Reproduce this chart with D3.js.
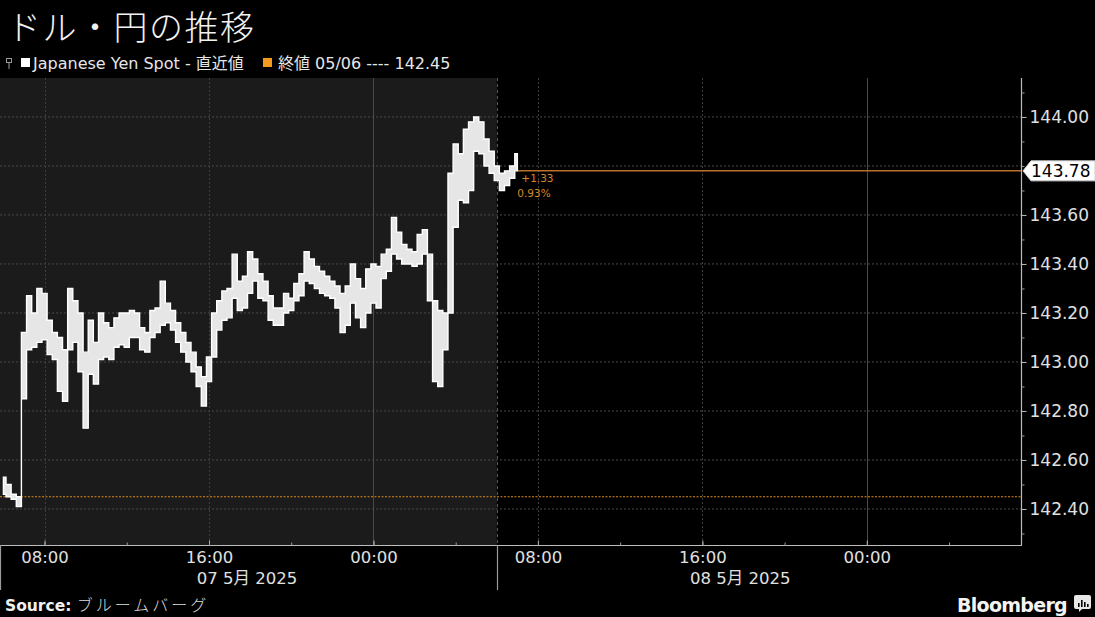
<!DOCTYPE html>
<html>
<head>
<meta charset="utf-8">
<script src="https://cdn.jsdelivr.net/npm/d3@7"></script>
<style>
  html, body { margin: 0; padding: 0; background: #000; }
  svg { display: block; }
</style>
</head>
<body>
<svg id="chart" width="1095" height="617"></svg>
<script>
// ---------------- DATA ----------------
const title = "ドル・円の推移";
const seriesName = "Japanese Yen Spot - 直近値";
const refLabel = "終値 05/06 ---- 142.45";
const refValue = 142.45;
const lastValue = 143.78;
const changeLabel = "+1.33";
const changePctLabel = "0.93%";
const sourceLabel = "ブルームバーグ";
const dateLabels = ["07 5月 2025", "08 5月 2025"];
const yGridValues = [142.4, 142.6, 142.8, 143.0, 143.2, 143.4, 143.6, 143.8, 144.0];
const yLabelValues = [142.4, 142.6, 142.8, 143.0, 143.2, 143.4, 143.6, 144.0];
const yMinorTicks = [142.3, 142.5, 142.7, 142.9, 143.1, 143.3, 143.5, 143.7, 143.8, 143.9, 144.1];
// 15-minute bars starting 2025-05-07 06:00 (Tokyo)
const seriesStart = new Date(2025, 4, 7, 6, 0);
const barMinutes = 15;
const priceHigh = [
  142.53, 142.50, 142.46, 142.45, 143.12, 143.27, 143.20, 143.30, 143.28, 143.17,
  143.12, 143.10, 143.05, 143.30, 143.25, 143.20, 143.04, 143.17, 143.08, 143.20,
  143.16, 143.14, 143.18, 143.20, 143.20, 143.21, 143.20, 143.14, 143.12, 143.21,
  143.22, 143.33, 143.24, 143.21, 143.16, 143.12, 143.08, 143.04, 142.98, 142.94,
  143.02, 143.20, 143.25, 143.29, 143.30, 143.44, 143.33, 143.35, 143.45, 143.42,
  143.36, 143.33, 143.27, 143.22, 143.22, 143.28, 143.26, 143.32, 143.36, 143.45,
  143.42, 143.39, 143.37, 143.35, 143.33, 143.31, 143.28, 143.31, 143.40, 143.34,
  143.30, 143.38, 143.40, 143.39, 143.44, 143.46, 143.59, 143.53, 143.48, 143.46,
  143.45, 143.52, 143.54, 143.44, 143.25, 143.21, 143.20, 143.77, 143.89, 143.85,
  143.95, 143.98, 144.00, 143.98, 143.91, 143.86, 143.80, 143.77, 143.78, 143.80,
  143.85
];
const priceLow = [
  142.46, 142.45, 142.44, 142.41, 142.85, 143.05, 143.06, 143.08, 143.09, 143.03,
  143.01, 142.88, 142.84, 143.05, 143.08, 142.96, 142.73, 142.95, 142.91, 143.01,
  143.02, 143.01, 143.06, 143.07, 143.06, 143.10, 143.10, 143.05, 143.04, 143.10,
  143.12, 143.15, 143.16, 143.13, 143.08, 143.04, 143.00, 142.96, 142.90, 142.82,
  142.92, 143.02, 143.13, 143.17, 143.18, 143.26, 143.21, 143.22, 143.28, 143.33,
  143.26, 143.25, 143.17, 143.15, 143.15, 143.20, 143.21, 143.25, 143.27, 143.33,
  143.32, 143.30, 143.28, 143.27, 143.26, 143.22, 143.12, 143.15, 143.24, 143.18,
  143.14, 143.20, 143.24, 143.22, 143.34, 143.37, 143.44, 143.42, 143.40, 143.40,
  143.39, 143.40, 143.44, 143.25, 142.92, 142.90, 143.05, 143.20, 143.55, 143.66,
  143.65, 143.70, 143.86, 143.85, 143.80, 143.77, 143.74, 143.70, 143.72, 143.75,
  143.78
];

// ---------------- LAYOUT ----------------
const W = 1095, H = 617;
const plot = { left: 0, right: 1021, top: 78, bottom: 545 };
const domainStart = new Date(2025, 4, 7, 5, 50);
const domainEnd = new Date(2025, 4, 9, 7, 30);
const sessionBreak = new Date(2025, 4, 8, 6, 0);

const bars = priceHigh.map((h, i) => ({
  t: new Date(seriesStart.getTime() + i * barMinutes * 60000),
  hi: h, lo: priceLow[i]
}));

const svg = d3.select("#chart");
const x = d3.scaleTime().domain([domainStart, domainEnd]).range([plot.left, plot.right]);
const y = d3.scaleLinear().domain([142.253, 144.159]).range([plot.bottom, plot.top]);

const latin = "'DejaVu Sans', 'Noto Sans CJK JP', sans-serif";
const cjk = "'Noto Sans CJK JP', 'DejaVu Sans', sans-serif";

svg.append("rect").attr("width", W).attr("height", H).attr("fill", "#000");

// shaded previous session
svg.append("rect")
  .attr("x", x(domainStart)).attr("y", plot.top)
  .attr("width", x(sessionBreak) - x(domainStart)).attr("height", plot.bottom - plot.top)
  .attr("fill", "#1b1b1b");

// horizontal gridlines
svg.append("g").selectAll("line").data(yGridValues).join("line")
  .attr("x1", plot.left).attr("x2", plot.right)
  .attr("y1", d => y(d)).attr("y2", d => y(d))
  .attr("stroke", "#4a4a4a").attr("stroke-width", 1).attr("stroke-dasharray", "2,2");

// vertical gridlines at 8-hour marks
const majorTimes = x.ticks(d3.timeHour.every(8));
svg.append("g").selectAll("line").data(majorTimes).join("line")
  .attr("x1", d => Math.round(x(d)) + 0.5).attr("x2", d => Math.round(x(d)) + 0.5)
  .attr("y1", plot.top).attr("y2", plot.bottom)
  .attr("stroke", d => d.getHours() === 0 ? "#4a4a4a" : "#3e3e3e")
  .attr("stroke-width", 1)
  .attr("stroke-dasharray", d => d.getHours() === 0 ? null : "2,2");

// session break line
svg.append("line")
  .attr("x1", Math.round(x(sessionBreak)) + 0.5).attr("x2", Math.round(x(sessionBreak)) + 0.5)
  .attr("y1", plot.top).attr("y2", plot.bottom)
  .attr("stroke", "#5a5a5a").attr("stroke-dasharray", "3,3");

// reference close line (dotted orange)
svg.append("line")
  .attr("x1", plot.left).attr("x2", plot.right)
  .attr("y1", y(refValue)).attr("y2", y(refValue))
  .attr("stroke", "#e08a1e").attr("stroke-width", 1.2).attr("stroke-dasharray", "2,1.5");

// last value line
const lastX = x(bars[bars.length - 1].t);
svg.append("line")
  .attr("x1", lastX).attr("x2", plot.right)
  .attr("y1", y(lastValue)).attr("y2", y(lastValue))
  .attr("stroke", "#b8702a").attr("stroke-width", 1.5);

// price band
const area = d3.area()
  .x(d => x(d.t))
  .y0(d => y(d.lo))
  .y1(d => y(d.hi))
  .curve(d3.curveStep);
svg.append("path").datum(bars)
  .attr("d", area)
  .attr("fill", "#e6e6e6")
  .attr("stroke", "#ffffff")
  .attr("stroke-width", 1.4)
  .attr("stroke-linejoin", "miter");

// change annotation
svg.append("text").attr("x", lastX + 4).attr("y", y(lastValue) + 11)
  .attr("fill", "#d4892a").attr("font-family", latin).attr("font-size", 10.5)
  .text(changeLabel);
svg.append("text").attr("x", lastX).attr("y", y(lastValue) + 26)
  .attr("fill", "#d4892a").attr("font-family", latin).attr("font-size", 10.5)
  .text(changePctLabel);

// ---------------- AXES ----------------
// right axis line
svg.append("line")
  .attr("x1", plot.right + 0.5).attr("x2", plot.right + 0.5)
  .attr("y1", plot.top).attr("y2", plot.bottom)
  .attr("stroke", "#bdbdbd").attr("stroke-width", 1.2);

const yAxis = d3.axisRight(y).tickValues(yLabelValues)
  .tickFormat(d3.format(".2f")).tickSize(5).tickPadding(3);
const gy = svg.append("g").attr("transform", `translate(${plot.right + 0.5},0)`).call(yAxis);
gy.select(".domain").remove();
gy.selectAll(".tick line").attr("stroke", "#bdbdbd");
gy.selectAll(".tick text").attr("fill", "#e0e0e0")
  .attr("font-family", latin).attr("font-size", 17);

const yMinor = d3.axisRight(y).tickValues(yMinorTicks).tickFormat("").tickSize(3);
const gym = svg.append("g").attr("transform", `translate(${plot.right + 0.5},0)`).call(yMinor);
gym.select(".domain").remove();
gym.selectAll(".tick line").attr("stroke", "#9a9a9a");

// x axis
svg.append("line")
  .attr("x1", plot.left).attr("x2", plot.right + 1)
  .attr("y1", plot.bottom + 0.5).attr("y2", plot.bottom + 0.5)
  .attr("stroke", "#bdbdbd").attr("stroke-width", 1.2);

const xAxis = d3.axisBottom(x).ticks(d3.timeHour.every(8))
  .tickFormat(d3.timeFormat("%H:%M")).tickSizeInner(-5).tickSizeOuter(0).tickPadding(6);
const gx = svg.append("g").attr("transform", `translate(0,${plot.bottom + 0.5})`).call(xAxis);
gx.select(".domain").remove();
gx.selectAll(".tick line").attr("stroke", "#bdbdbd");
gx.selectAll(".tick text").attr("fill", "#e0e0e0")
  .attr("font-family", latin).attr("font-size", 16.5);

const xMinor = d3.axisBottom(x).ticks(d3.timeHour.every(4)).tickFormat("").tickSizeInner(-3).tickSizeOuter(0);
const gxm = svg.append("g").attr("transform", `translate(0,${plot.bottom + 0.5})`).call(xMinor);
gxm.select(".domain").remove();
gxm.selectAll(".tick line").attr("stroke", "#9a9a9a");

// right end tick of x axis
svg.append("line").attr("x1", plot.right + 0.5).attr("x2", plot.right + 0.5)
  .attr("y1", plot.bottom - 4).attr("y2", plot.bottom).attr("stroke", "#bdbdbd");

// day separators below axis
[domainStart, sessionBreak].forEach(d => {
  const xx = Math.max(0.5, Math.round(x(d)) + 0.5);
  svg.append("line").attr("x1", xx).attr("x2", xx)
    .attr("y1", plot.bottom).attr("y2", plot.bottom + 45)
    .attr("stroke", "#9a9a9a").attr("stroke-width", 1.2);
});

// date labels (centered a bit right of each day's 16:00 tick)
const dateAnchors = [new Date(2025, 4, 7, 16, 0), new Date(2025, 4, 8, 16, 0)];
svg.append("g").selectAll("text").data(dateLabels).join("text")
  .attr("x", (d, i) => x(dateAnchors[i]) + 38)
  .attr("y", 584)
  .attr("text-anchor", "middle")
  .attr("fill", "#e0e0e0").attr("font-family", latin).attr("font-size", 16.5)
  .text(d => d);

// last value tag on right axis
const tagY = y(lastValue);
const tag = svg.append("g").attr("transform", `translate(${plot.right + 2},${tagY})`);
tag.append("path")
  .attr("d", "M0,0 L8,-10 L72,-10 L72,10 L8,10 Z")
  .attr("fill", "#ffffff").attr("stroke", "#cfcfcf");
tag.append("text").attr("x", 8).attr("y", 0).attr("dy", "0.36em")
  .attr("fill", "#000").attr("font-family", latin).attr("font-size", 17)
  .text(d3.format(".2f")(lastValue));

// ---------------- TITLE / LEGEND ----------------
svg.append("text").attr("x", 7).attr("y", 39.5)
  .attr("fill", "#f2f2f2").attr("font-family", cjk).attr("font-weight", 300)
  .attr("font-size", 34).attr("letter-spacing", 1.5).text(title);

// legend pin icon
const pin = svg.append("g").attr("transform", "translate(6,58)").attr("stroke", "#9a9a9a").attr("fill", "none");
pin.append("rect").attr("x", 0.5).attr("y", 0.5).attr("width", 5).attr("height", 4);
pin.append("line").attr("x1", 3).attr("x2", 3).attr("y1", 4.5).attr("y2", 11);

svg.append("rect").attr("x", 21).attr("y", 58).attr("width", 9).attr("height", 9).attr("fill", "#ffffff");
svg.append("text").attr("x", 33).attr("y", 69)
  .attr("fill", "#e6e6e6").attr("font-family", latin).attr("font-size", 16)
  .text(seriesName);

svg.append("rect").attr("x", 263).attr("y", 58).attr("width", 9).attr("height", 9).attr("fill", "#f39a1e");
svg.append("text").attr("x", 278).attr("y", 69)
  .attr("fill", "#e6e6e6").attr("font-family", latin).attr("font-size", 16)
  .text(refLabel);

// ---------------- FOOTER ----------------
const src = svg.append("text").attr("x", 5).attr("y", 611)
  .attr("fill", "#f0f0f0").attr("font-family", latin).attr("font-size", 15.5);
src.append("tspan").attr("font-weight", "bold").text("Source: ");
src.append("tspan").attr("font-family", cjk).attr("font-weight", 300).attr("fill", "#dcdcdc")
  .attr("font-size", 16).attr("letter-spacing", 3).text(sourceLabel);

svg.append("text").attr("x", 1067).attr("y", 612).attr("text-anchor", "end")
  .attr("fill", "#f4f4f4").attr("font-family", latin).attr("font-weight", "bold")
  .attr("font-size", 19).attr("letter-spacing", -0.7).text("Bloomberg");

// Bloomberg chart icon
const icon = svg.append("g").attr("transform", "translate(1074,595)");
icon.append("rect").attr("width", 17).attr("height", 14).attr("rx", 2).attr("fill", "#e8e8e8");
icon.append("path").attr("d", "M5,14 L8,14 L5,17 Z").attr("fill", "#e8e8e8");
[[4, 8, 3], [7, 5, 6], [10, 7, 4], [13, 9, 2]].forEach(b => {
  icon.append("rect").attr("x", b[0]).attr("y", b[1]).attr("width", 1.6).attr("height", b[2] + 1).attr("fill", "#000");
});
</script>
</body>
</html>
